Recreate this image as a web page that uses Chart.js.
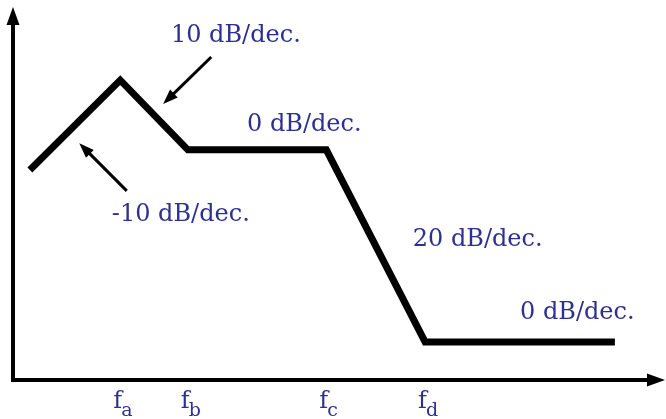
<!DOCTYPE html>
<html>
<head>
<meta charset="utf-8">
<script src="https://cdn.jsdelivr.net/npm/chart.js@4/dist/chart.umd.min.js"></script>
<style>
  html, body { margin: 0; padding: 0; background: #fff; }
  canvas { display: block; }
</style>
</head>
<body>
<canvas id="bodePlot" width="666" height="419"></canvas>
<script>
// asymptotic curve, x in arbitrary log-frequency units, y in dB units
var freqPos = [0.26, 1.65, 2.69, 4.82, 6.34, 9.26];
var gainDb  = [5.63, 8.04, 6.17, 6.17, 1.02, 1.02];

// break frequencies (index into freqPos) and their subscripts
var breakIdx  = [1, 2, 3, 4];
var breakSubs = ['a', 'b', 'c', 'd'];

// slope labels
var slopeText = ['-10 dB/dec.', '10 dB/dec.', '0 dB/dec.', '20 dB/dec.', '0 dB/dec.'];
var slopeX    = [1.52, 2.43, 3.6, 6.15, 7.8];
var slopeY    = [4.26, 9.06, 6.68, 3.59, 1.64];

// pointer arrows (tail -> tip)
var arrowFrom = [[1.75, 5.07], [3.05, 8.66]];
var arrowTo   = [[1.02, 6.35], [2.31, 7.40]];

var BLUE = '#2d3091';
var SERIF = '"DejaVu Serif", "Liberation Serif", serif';

function arrowHead(ctx, x1, y1, x2, y2, len, half) {
    var a = Math.atan2(y2 - y1, x2 - x1);
    ctx.beginPath();
    ctx.moveTo(x2, y2);
    ctx.lineTo(x2 - len * Math.cos(a) + half * Math.sin(a), y2 - len * Math.sin(a) - half * Math.cos(a));
    ctx.lineTo(x2 - len * Math.cos(a) - half * Math.sin(a), y2 - len * Math.sin(a) + half * Math.cos(a));
    ctx.closePath();
    ctx.fill();
}

// axes with arrows, labels and pointers
var decorPlugin = {
    id: 'decor',
    afterDatasetsDraw: function(chart) {
        var ctx = chart.ctx;
        var xs = chart.scales.x, ys = chart.scales.y;
        var x0 = xs.getPixelForValue(0), y0 = ys.getPixelForValue(0);
        ctx.save();
        ctx.fillStyle = '#000';
        ctx.strokeStyle = '#000';
        ctx.lineWidth = 4;
        ctx.beginPath();
        ctx.moveTo(x0, ys.top + 12);
        ctx.lineTo(x0, y0);
        ctx.lineTo(xs.right - 12, y0);
        ctx.stroke();
        arrowHead(ctx, x0, y0, x0, ys.top, 18, 6.5);
        arrowHead(ctx, x0, y0, xs.right + 2, y0, 18, 6.5);

        // pointer arrows
        ctx.lineWidth = 3;
        for (var i = 0; i < arrowFrom.length; i++) {
            var tx = xs.getPixelForValue(arrowFrom[i][0]), ty = ys.getPixelForValue(arrowFrom[i][1]);
            var hx = xs.getPixelForValue(arrowTo[i][0]), hy = ys.getPixelForValue(arrowTo[i][1]);
            var a = Math.atan2(hy - ty, hx - tx);
            ctx.beginPath();
            ctx.moveTo(tx, ty);
            ctx.lineTo(hx - 8 * Math.cos(a), hy - 8 * Math.sin(a));
            ctx.stroke();
            arrowHead(ctx, tx, ty, hx, hy, 15, 5.5);
        }

        // slope labels
        ctx.fillStyle = BLUE;
        ctx.font = '24px ' + SERIF;
        ctx.textAlign = 'left';
        ctx.textBaseline = 'alphabetic';
        for (var j = 0; j < slopeText.length; j++) {
            ctx.fillText(slopeText[j], xs.getPixelForValue(slopeX[j]), ys.getPixelForValue(slopeY[j]));
        }

        // break frequency labels f_a ... f_d
        for (var k = 0; k < breakIdx.length; k++) {
            var bx = xs.getPixelForValue(freqPos[breakIdx[k]]) - 7;
            ctx.font = '24px ' + SERIF;
            ctx.fillText('f', bx, y0 + 28);
            var fw = ctx.measureText('f').width;
            ctx.font = '19px ' + SERIF;
            ctx.fillText(breakSubs[k], bx + fw - 1, y0 + 36);
        }
        ctx.restore();
    }
};

var points = freqPos.map(function(f, i) { return { x: f, y: gainDb[i] }; });

new Chart(document.getElementById('bodePlot').getContext('2d'), {
    type: 'line',
    data: {
        datasets: [{
            data: points,
            borderColor: '#000',
            borderWidth: 7,
            pointRadius: 0,
            tension: 0,
            fill: false,
            borderJoinStyle: 'miter',
            borderCapStyle: 'butt'
        }]
    },
    options: {
        responsive: false,
        animation: false,
        devicePixelRatio: 1,
        layout: { padding: { left: 13, right: 3, top: 7, bottom: 39 } },
        plugins: { legend: { display: false }, tooltip: { enabled: false } },
        scales: {
            x: { type: 'linear', min: 0, max: 10, display: false },
            y: { type: 'linear', min: 0, max: 10, display: false }
        }
    },
    plugins: [decorPlugin]
});
</script>
</body>
</html>
